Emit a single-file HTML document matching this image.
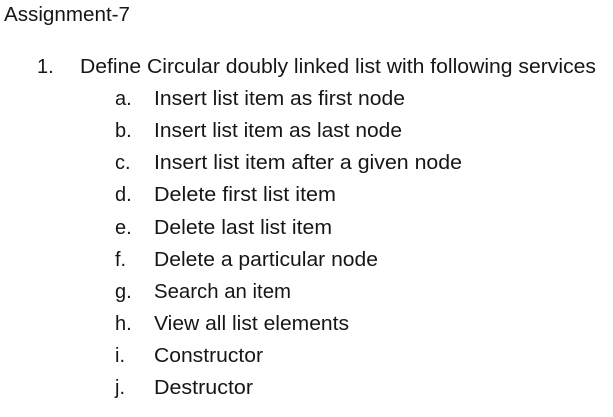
<!DOCTYPE html>
<html><head><meta charset="utf-8"><style>
html,body{margin:0;padding:0;background:#fff;width:613px;height:417px;overflow:hidden}
text{font-family:"Liberation Sans",sans-serif;font-size:20px;fill:#161616}
</style></head><body>
<svg width="613" height="417" xmlns="http://www.w3.org/2000/svg">
<text x="4" y="21" textLength="126" lengthAdjust="spacingAndGlyphs">Assignment-7</text>
<text x="37" y="73">1.</text>
<text x="80" y="73" textLength="516" lengthAdjust="spacingAndGlyphs">Define Circular doubly linked list with following services</text>
<text x="115" y="105">a.</text><text x="154" y="105" textLength="251" lengthAdjust="spacingAndGlyphs">Insert list item as first node</text>
<text x="115" y="137">b.</text><text x="154" y="137" textLength="248" lengthAdjust="spacingAndGlyphs">Insert list item as last node</text>
<text x="115" y="169">c.</text><text x="154" y="169" textLength="308" lengthAdjust="spacingAndGlyphs">Insert list item after a given node</text>
<text x="115" y="201">d.</text><text x="154" y="201" textLength="182" lengthAdjust="spacingAndGlyphs">Delete first list item</text>
<text x="115" y="234">e.</text><text x="154" y="234" textLength="178" lengthAdjust="spacingAndGlyphs">Delete last list item</text>
<text x="115" y="266">f.</text><text x="154" y="266" textLength="224" lengthAdjust="spacingAndGlyphs">Delete a particular node</text>
<text x="115" y="298">g.</text><text x="154" y="298" textLength="137" lengthAdjust="spacingAndGlyphs">Search an item</text>
<text x="115" y="330">h.</text><text x="154" y="330" textLength="195" lengthAdjust="spacingAndGlyphs">View all list elements</text>
<text x="115" y="362">i.</text><text x="154" y="362" textLength="109" lengthAdjust="spacingAndGlyphs">Constructor</text>
<text x="115" y="394">j.</text><text x="154" y="394" textLength="99" lengthAdjust="spacingAndGlyphs">Destructor</text>
</svg>
</body></html>
